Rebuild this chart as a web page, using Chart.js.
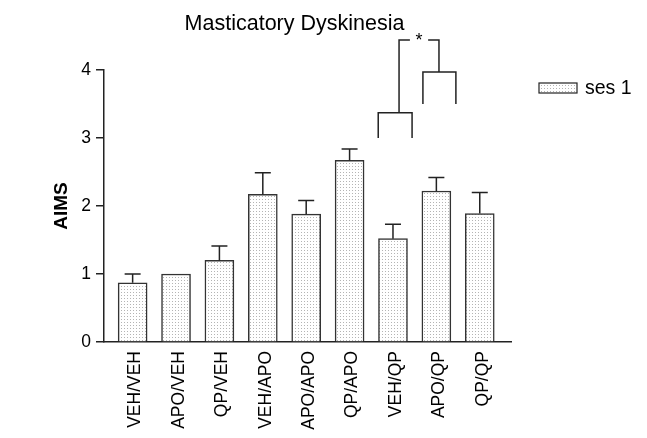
<!DOCTYPE html>
<html>
<head>
<meta charset="utf-8">
<script src="https://cdn.jsdelivr.net/npm/chart.js@4"></script>
<style>
  html, body { margin: 0; padding: 0; background: #fff; }
</style>
</head>
<body>
<canvas id="chart" width="647" height="438"></canvas>
<script>
const categories = ['VEH/VEH', 'APO/VEH', 'QP/VEH', 'VEH/APO', 'APO/APO', 'QP/APO', 'VEH/QP', 'APO/QP', 'QP/QP'];
const means = [0.87, 1.0, 1.2, 2.17, 1.88, 2.67, 1.52, 2.22, 1.89];
const sem = [0.13, 0, 0.21, 0.32, 0.2, 0.17, 0.21, 0.2, 0.31];
const yTicks = [0, 1, 2, 3, 4];
const seriesName = 'ses 1';
const chartTitle = 'Masticatory Dyskinesia';

// significance brackets, in axis units (x = category index, y = AIMS)
const lowBrackets = [
  { from: 5.66, to: 6.44, base: 3.0, top: 3.37 },
  { from: 6.69, to: 7.45, base: 3.5, top: 3.97 }
];
const topBracket = { from: 6.14, to: 7.06, fromBase: 3.37, toBase: 3.97, top: 4.44, gapFrom: 6.39, gapTo: 6.81, mark: '*' };

const FONT = '"Liberation Sans", Arial, Helvetica, sans-serif';
const ink = '#222';

const canvas = document.getElementById('chart');
const ctx = canvas.getContext('2d');

function makeDots() {
  const c = document.createElement('canvas');
  c.width = 3; c.height = 3;
  const g = c.getContext('2d');
  g.fillStyle = '#fff';
  g.fillRect(0, 0, 3, 3);
  g.fillStyle = '#b4b4b4';
  g.fillRect(1, 1, 1, 1);
  return ctx.createPattern(c, 'repeat');
}
const dots = makeDots();

const extras = {
  id: 'extras',
  afterDatasetsDraw(chart) {
    const { ctx, scales: { x, y } } = chart;
    const meta = chart.getDatasetMeta(0);
    ctx.save();
    ctx.strokeStyle = ink;
    ctx.lineWidth = 1.5;
    meta.data.forEach((bar, i) => {
      if (!sem[i]) return;
      const top = y.getPixelForValue(means[i] + sem[i]);
      const cx = bar.x;
      ctx.beginPath();
      ctx.moveTo(cx, bar.y);
      ctx.lineTo(cx, top);
      ctx.moveTo(cx - 8, top);
      ctx.lineTo(cx + 8, top);
      ctx.stroke();
    });
    ctx.restore();
  },
  afterDraw(chart) {
    const { ctx, scales: { x, y } } = chart;
    const px = v => x.getPixelForValue(v);
    const py = v => y.getPixelForValue(v);
    ctx.save();
    ctx.strokeStyle = ink;
    ctx.lineWidth = 1.5;
    lowBrackets.forEach(b => {
      ctx.beginPath();
      ctx.moveTo(px(b.from), py(b.base));
      ctx.lineTo(px(b.from), py(b.top));
      ctx.lineTo(px(b.to), py(b.top));
      ctx.lineTo(px(b.to), py(b.base));
      ctx.stroke();
    });
    const t = topBracket;
    ctx.beginPath();
    ctx.moveTo(px(t.from), py(t.fromBase));
    ctx.lineTo(px(t.from), py(t.top));
    ctx.lineTo(px(t.gapFrom), py(t.top));
    ctx.moveTo(px(t.gapTo), py(t.top));
    ctx.lineTo(px(t.to), py(t.top));
    ctx.lineTo(px(t.to), py(t.toBase));
    ctx.stroke();
    ctx.fillStyle = '#000';
    ctx.font = '18px ' + FONT;
    ctx.textAlign = 'center';
    ctx.textBaseline = 'middle';
    ctx.fillText(t.mark, px((t.gapFrom + t.gapTo) / 2), py(t.top) + 1);

    // title
    ctx.font = '21.5px ' + FONT;
    ctx.textBaseline = 'alphabetic';
    ctx.fillText(chartTitle, 294.5, 30);

    // legend
    ctx.fillStyle = dots;
    ctx.fillRect(539, 83, 38, 10);
    ctx.lineWidth = 1.2;
    ctx.strokeRect(539, 83, 38, 10);
    ctx.fillStyle = '#000';
    ctx.font = '19.5px ' + FONT;
    ctx.textAlign = 'left';
    ctx.textBaseline = 'middle';
    ctx.fillText(seriesName, 585, 89);
    ctx.restore();
  }
};

new Chart(ctx, {
  type: 'bar',
  data: {
    datasets: [{
      label: seriesName,
      data: categories.map((c, i) => ({ x: i, y: means[i] })),
      backgroundColor: dots,
      borderColor: '#333',
      borderWidth: 1.5,
      borderSkipped: 'bottom',
      barThickness: 29
    }]
  },
  options: {
    responsive: false,
    animation: false,
    devicePixelRatio: 1,
    layout: { padding: { left: 46, top: 70, right: 136, bottom: 0 } },
    plugins: {
      legend: { display: false },
      title: { display: false },
      tooltip: { enabled: false }
    },
    scales: {
      x: {
        type: 'linear',
        offset: false,
        min: -0.66,
        max: 8.72,
        afterFit: s => { s.height = 96; },
        afterBuildTicks: s => { s.ticks = categories.map((c, i) => ({ value: i })); },
        grid: { display: false, drawTicks: false, offset: false },
        border: { display: true, color: ink, width: 1.5 },
        ticks: {
          autoSkip: false,
          minRotation: 90,
          maxRotation: 90,
          padding: 9,
          labelOffset: 3,
          color: '#000',
          font: { family: FONT, size: 17.5 },
          callback: v => categories[v] ?? ''
        }
      },
      y: {
        min: 0,
        max: 4,
        afterFit: s => { s.width = 58; },
        afterBuildTicks: s => { s.ticks = yTicks.map(v => ({ value: v })); },
        grid: { drawOnChartArea: false, drawTicks: true, tickLength: 8, color: ink, lineWidth: 1.5 },
        border: { display: true, color: ink, width: 1.5 },
        ticks: {
          padding: 5,
          color: '#000',
          font: { family: FONT, size: 17.5 }
        },
        title: {
          display: true,
          text: 'AIMS',
          color: '#000',
          font: { family: FONT, size: 19, weight: 'bold' },
          padding: { top: 4, bottom: 4 }
        }
      }
    }
  },
  plugins: [extras]
});
</script>
</body>
</html>
